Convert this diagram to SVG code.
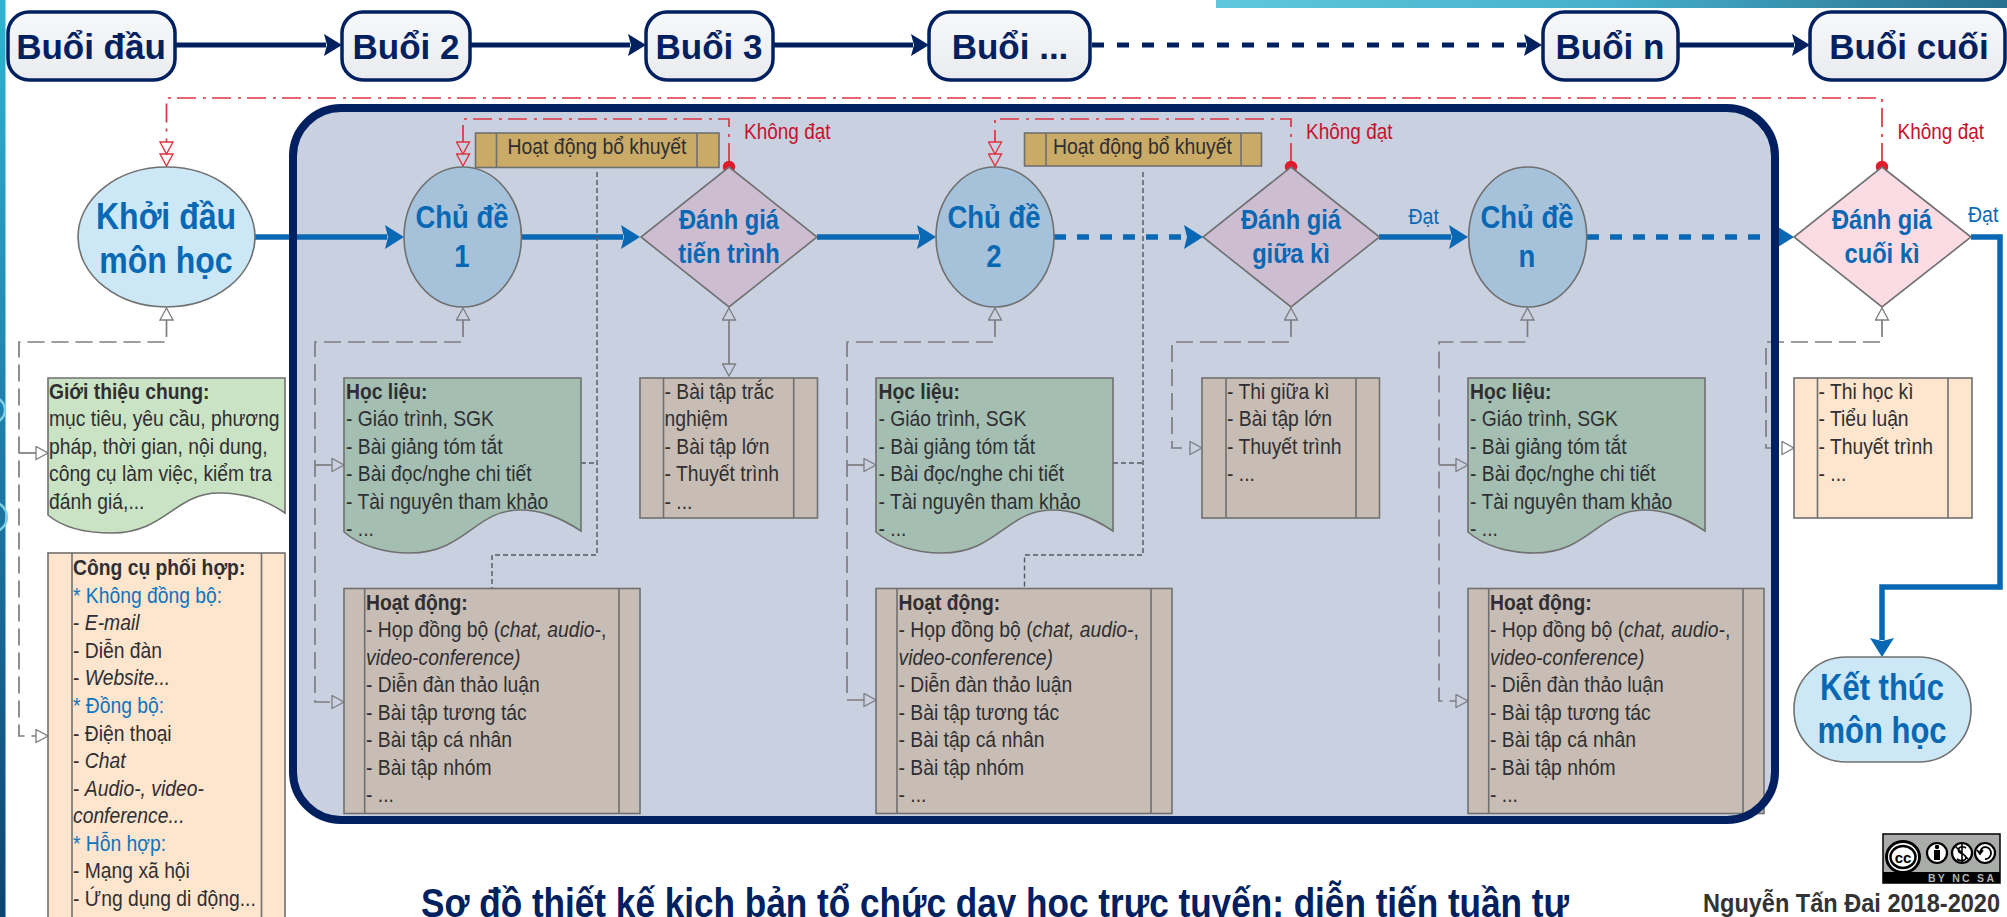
<svg xmlns="http://www.w3.org/2000/svg" width="2007" height="917" viewBox="0 0 2007 917">
<style>
text{font-family:"Liberation Sans",Arial,sans-serif}
.top rect{fill:url(#gTop);stroke:#002060;stroke-width:3.5}
.top text{font-weight:700;font-size:35px;fill:#002060;text-anchor:middle}
.sh{stroke:#707070;stroke-width:1.6}
.big{font-weight:700;fill:#0868b4;text-anchor:middle}
.body{font-size:19.3px;fill:#2f2f33}
.body .b{font-weight:700}
.body .i{font-style:italic}
.body .u{fill:#1074bc}
.kd{font-size:19px;fill:#c8102e}
.dat{font-size:19.5px;fill:#0868b4}
.f-mat{fill:#a4bfb2}
.f-act{fill:#c8bdb4}
.f-pe{fill:#fde5ce}
.f-gold{fill:#c9aa66}
.f-dm{fill:#cdbdd1}
.f-ch{fill:#a5c2da}
.f-st{fill:#cce8f6}
.nav{fill:none;stroke:#002060;stroke-width:5}
.blu{fill:none;stroke:#0868b4;stroke-width:5.5}
.da1{stroke-dasharray:12 13}
.da2{stroke-dasharray:12 11}
.gr{fill:none;stroke:#7d7d80;stroke-width:1.7;stroke-dasharray:17 7}
.dk{fill:none;stroke:#55585f;stroke-width:1.4;stroke-dasharray:5 3}
.rd{fill:none;stroke:#dd3440;stroke-width:1.7;stroke-dasharray:19 6 3 7}
.dot{fill:#e01b2b}
</style>
<defs>
<linearGradient id="gTop" x1="0" y1="0" x2="0" y2="1"><stop offset="0" stop-color="#f7f8fa"/><stop offset="1" stop-color="#e9ebef"/></linearGradient>
<linearGradient id="gL" x1="0" y1="0" x2="0" y2="1"><stop offset="0" stop-color="#2fb4d2"/><stop offset=".5" stop-color="#1d7ba6"/><stop offset="1" stop-color="#0c4474"/></linearGradient>
<linearGradient id="gR" x1="0" y1="0" x2="1" y2="0"><stop offset="0" stop-color="#5fc8de"/><stop offset=".5" stop-color="#46afcb"/><stop offset="1" stop-color="#27708f"/></linearGradient>
<marker id="aN" markerUnits="userSpaceOnUse" markerWidth="18" markerHeight="22" viewBox="0 0 18 22" refX="2" refY="11" orient="auto"><path d="M0,0L18,11L0,22L3,11Z" fill="#002060"/></marker>
<marker id="aB" markerUnits="userSpaceOnUse" markerWidth="19" markerHeight="24" viewBox="0 0 19 24" refX="2" refY="12" orient="auto"><path d="M0,0L19,12L0,24L3,12Z" fill="#0868b4"/></marker>
<marker id="hG" markerUnits="userSpaceOnUse" markerWidth="14" markerHeight="15" viewBox="-1 -1 14 15" refX="0" refY="6.5" orient="auto-start-reverse"><path d="M0,0L12,6.5L0,13Z" fill="none" stroke="#7d7d80" stroke-width="1.3"/></marker>
<marker id="hR" markerUnits="userSpaceOnUse" markerWidth="26" markerHeight="15" viewBox="-1 -1 26 15" refX="0" refY="6.5" orient="auto"><path d="M0,0L12,6.5L0,13ZM12,0L24,6.5L12,13Z" fill="none" stroke="#dd3440" stroke-width="1.4"/></marker>
</defs>

<rect width="2007" height="917" fill="#fff"/>
<g id="deco">
<rect x="0" y="0" width="5.5" height="917" fill="url(#gL)"/>
<rect x="1216" y="0" width="791" height="8" fill="url(#gR)"/>
<circle cx="-8" cy="410" r="13" fill="none" stroke="#7fd0e6" stroke-width="2.5"/>
<circle cx="-8" cy="517" r="15" fill="none" stroke="#7fd0e6" stroke-width="2.5"/>
</g>

<rect id="panel-bg" x="293" y="108" width="1482" height="712" rx="48" ry="48" fill="#c9d1e0"/>

<g id="connectors">
<path class="nav" marker-end="url(#aN)" d="M175,45H326"/>
<path class="nav" marker-end="url(#aN)" d="M470,45H630"/>
<path class="nav" marker-end="url(#aN)" d="M773,45H913"/>
<path class="nav da1" marker-end="url(#aN)" d="M1092,45H1526"/>
<path class="nav" marker-end="url(#aN)" d="M1678,45H1794"/>
<path class="blu" marker-end="url(#aB)" d="M255,237H387"/>
<path class="blu" marker-end="url(#aB)" d="M521,237H623"/>
<path class="blu" marker-end="url(#aB)" d="M817,237H919"/>
<path class="blu da2" marker-end="url(#aB)" d="M1054,237H1186"/>
<path class="blu" marker-end="url(#aB)" d="M1379,237H1451"/>
<path class="blu da2" marker-end="url(#aB)" d="M1587,237H1777"/>
<path class="blu" marker-end="url(#aB)" d="M1971,237H2000V587H1882V640"/>
<path class="rd" marker-end="url(#hR)" d="M1882,162V98H166.500V142"/>
<path class="rd" marker-end="url(#hR)" d="M729,162V119H463V142"/>
<path class="rd" marker-end="url(#hR)" d="M1291,162V119H995V142"/>
<path class="dk" d="M597,172V555H492V588M581,463H597"/>
<path class="dk" d="M1143,172V555H1024.500V588M1113,463H1143"/>
<path class="gr" marker-start="url(#hG)" marker-end="url(#hG)" d="M166.500,320V342H19V736H36"/>
<path class="gr" marker-end="url(#hG)" d="M19,453H36"/>
<path class="gr" marker-start="url(#hG)" marker-end="url(#hG)" d="M463,320V342H315V702H332"/>
<path class="gr" marker-end="url(#hG)" d="M315,465H332"/>
<path class="gr" marker-start="url(#hG)" marker-end="url(#hG)" d="M995,320V342H847V700H864"/>
<path class="gr" marker-end="url(#hG)" d="M847,465H864"/>
<path class="gr" marker-start="url(#hG)" marker-end="url(#hG)" d="M1527.500,320V342H1439V701H1456"/>
<path class="gr" marker-end="url(#hG)" d="M1439,465H1456"/>
<path class="gr" marker-start="url(#hG)" marker-end="url(#hG)" d="M1291,320V342H1172V448H1190"/>
<path class="gr" marker-start="url(#hG)" marker-end="url(#hG)" d="M1882,320V342H1766V448H1782"/>
<path class="gr" style="stroke-dasharray:none" marker-start="url(#hG)" marker-end="url(#hG)" d="M729,320V364"/>
<circle class="dot" cx="729" cy="167" r="6.200"/>
<circle class="dot" cx="1291" cy="167" r="6.200"/>
<circle class="dot" cx="1882" cy="167" r="6.200"/>
</g>

<g id="session-first" class="top"><rect x="8" y="12" width="167" height="68" rx="21"/><text x="91" y="59">Buổi đầu</text></g>
<g id="session-2" class="top"><rect x="342" y="12" width="128" height="68" rx="21"/><text x="406" y="59">Buổi 2</text></g>
<g id="session-3" class="top"><rect x="646" y="12" width="127" height="68" rx="21"/><text x="709" y="59">Buổi 3</text></g>
<g id="session-more" class="top"><rect x="929" y="12" width="161" height="68" rx="21"/><text x="1010" y="59">Buổi ...</text></g>
<g id="session-n" class="top"><rect x="1543" y="12" width="135" height="68" rx="21"/><text x="1610" y="59">Buổi n</text></g>
<g id="session-last" class="top"><rect x="1810" y="12" width="195" height="68" rx="21"/><text x="1909" y="59">Buổi cuối</text></g>

<g id="start"><ellipse class="f-st sh" cx="166.500" cy="237" rx="88.500" ry="70"/><g transform="translate(166,229) scale(1,1.13)"><text class="big" font-size="32">Khởi đầu</text><text class="big" font-size="32" y="39">môn học</text></g></g>

<g id="topic-1"><ellipse class="f-ch sh" cx="462.700" cy="237" rx="58.700" ry="70"/><g transform="translate(462,228) scale(1,1.17)"><text class="big" font-size="27.500">Chủ đề</text><text class="big" font-size="27.500" y="33.500">1</text></g></g>
<g id="topic-2"><ellipse class="f-ch sh" cx="995" cy="237" rx="59" ry="70"/><g transform="translate(994,228) scale(1,1.17)"><text class="big" font-size="27.500">Chủ đề</text><text class="big" font-size="27.500" y="33.500">2</text></g></g>
<g id="topic-n"><ellipse class="f-ch sh" cx="1527.700" cy="237" rx="59" ry="70"/><g transform="translate(1527,228) scale(1,1.17)"><text class="big" font-size="27.500">Chủ đề</text><text class="big" font-size="27.500" y="33.500">n</text></g></g>

<g id="eval-progress"><path class="f-dm sh" d="M729,167L817,237L729,307L641,237Z"/><g transform="translate(729,229) scale(1,1.14)"><text class="big" font-size="23.700">Đánh giá</text><text class="big" font-size="23.700" y="30">tiến trình</text></g></g>
<g id="eval-mid"><path class="f-dm sh" d="M1291,167L1379.500,237L1291,307L1203,237Z"/><g transform="translate(1291,229) scale(1,1.14)"><text class="big" font-size="23.700">Đánh giá</text><text class="big" font-size="23.700" y="30">giữa kì</text></g></g>
<g id="eval-final"><path fill="#fbdbe4" class="sh" d="M1882,167L1971,237L1882,307L1794,237Z"/><g transform="translate(1882,229) scale(1,1.14)"><text class="big" font-size="23.700">Đánh giá</text><text class="big" font-size="23.700" y="30">cuối kì</text></g></g>

<g id="end"><rect class="f-st sh" x="1794" y="657" width="177" height="105" rx="52" ry="52"/><g transform="translate(1882,700) scale(1,1.2)"><text class="big" font-size="31">Kết thúc</text><text class="big" font-size="31" y="36">môn học</text></g></g>

<g id="remedial-1"><rect class="f-gold sh" x="475.500" y="133" width="243.500" height="34.500"/><path class="sh" fill="none" d="M496.500,133V167.500M697,133V167.500"/><text class="body" transform="translate(507.500,154) scale(1,1.12)" textLength="179" lengthAdjust="spacingAndGlyphs">Hoạt động bổ khuyết</text></g>
<g id="remedial-2"><rect class="f-gold sh" x="1024.500" y="133" width="237" height="33"/><path class="sh" fill="none" d="M1046,133V166M1241,133V166"/><text class="body" transform="translate(1053,154) scale(1,1.12)" textLength="179" lengthAdjust="spacingAndGlyphs">Hoạt động bổ khuyết</text></g>

<g id="intro"><path fill="#cae3c4" class="sh" d="M48,378H285V513C262,497 240,493 219,493C175,493 165,533 112,533C85,533 62,527 48,515Z"/>
<text class="body" transform="translate(49,399) scale(1,1.14)"><tspan class="b" x="0">Giới thiệu chung:</tspan><tspan x="0" dy="24.100">mục tiêu, yêu cầu, phương</tspan><tspan x="0" dy="24.100">pháp, thời gian, nội dung,</tspan><tspan x="0" dy="24.100">công cụ làm việc, kiểm tra</tspan><tspan x="0" dy="24.100">đánh giá,...</tspan></text></g>

<g id="tools"><rect class="f-pe sh" x="48" y="553" width="237" height="380"/><path class="sh" fill="none" d="M72,553V917M261.500,553V917"/>
<text class="body" transform="translate(73,575) scale(1,1.14)"><tspan class="b" x="0">Công cụ phối hợp:</tspan><tspan class="u" x="0" dy="24.200">* Không đồng bộ:</tspan><tspan x="0" dy="24.200">- <tspan class="i">E-mail</tspan></tspan><tspan x="0" dy="24.200">- Diễn đàn</tspan><tspan x="0" dy="24.200">- <tspan class="i">Website...</tspan></tspan><tspan class="u" x="0" dy="24.200">* Đồng bộ:</tspan><tspan x="0" dy="24.200">- Điện thoại</tspan><tspan x="0" dy="24.200">- <tspan class="i">Chat</tspan></tspan><tspan x="0" dy="24.200">- <tspan class="i">Audio-, video-</tspan></tspan><tspan class="i" x="0" dy="24.200">conference...</tspan><tspan class="u" x="0" dy="24.200">* Hỗn hợp:</tspan><tspan x="0" dy="24.200">- Mạng xã hội</tspan><tspan x="0" dy="24.200">- Ứng dụng di động...</tspan></text></g>

<g id="materials-1"><path class="f-mat sh" d="M344,378H581V531C558,516 540,510 520,510C475,510 465,553 410,553C385,553 360,546 344,532Z"/>
<text class="body" transform="translate(346,399) scale(1,1.14)"><tspan class="b" x="0">Học liệu:</tspan><tspan x="0" dy="24.100">- Giáo trình, SGK</tspan><tspan x="0" dy="24.100">- Bài giảng tóm tắt</tspan><tspan x="0" dy="24.100">- Bài đọc/nghe chi tiết</tspan><tspan x="0" dy="24.100">- Tài nguyên tham khảo</tspan><tspan x="0" dy="24.100">- ...</tspan></text></g>
<g id="materials-2"><path class="f-mat sh" d="M876,378H1113V531C1090,516 1072,510 1052,510C1007,510 997,553 942,553C917,553 892,546 876,532Z"/>
<text class="body" transform="translate(878.500,399) scale(1,1.14)"><tspan class="b" x="0">Học liệu:</tspan><tspan x="0" dy="24.100">- Giáo trình, SGK</tspan><tspan x="0" dy="24.100">- Bài giảng tóm tắt</tspan><tspan x="0" dy="24.100">- Bài đọc/nghe chi tiết</tspan><tspan x="0" dy="24.100">- Tài nguyên tham khảo</tspan><tspan x="0" dy="24.100">- ...</tspan></text></g>
<g id="materials-n"><path class="f-mat sh" d="M1468,378H1705V531C1682,516 1664,510 1644,510C1599,510 1589,553 1534,553C1509,553 1484,546 1468,532Z"/>
<text class="body" transform="translate(1470,399) scale(1,1.14)"><tspan class="b" x="0">Học liệu:</tspan><tspan x="0" dy="24.100">- Giáo trình, SGK</tspan><tspan x="0" dy="24.100">- Bài giảng tóm tắt</tspan><tspan x="0" dy="24.100">- Bài đọc/nghe chi tiết</tspan><tspan x="0" dy="24.100">- Tài nguyên tham khảo</tspan><tspan x="0" dy="24.100">- ...</tspan></text></g>

<g id="quiz"><rect class="f-act sh" x="640" y="378" width="177.500" height="140"/><path class="sh" fill="none" d="M663.500,378V518M793.700,378V518"/>
<text class="body" transform="translate(664.500,399) scale(1,1.14)"><tspan x="0">- Bài tập trắc</tspan><tspan x="0" dy="24.100">nghiệm</tspan><tspan x="0" dy="24.100">- Bài tập lớn</tspan><tspan x="0" dy="24.100">- Thuyết trình</tspan><tspan x="0" dy="24.100">- ...</tspan></text></g>
<g id="midterm"><rect class="f-act sh" x="1202" y="378" width="177.500" height="140"/><path class="sh" fill="none" d="M1226,378V518M1356,378V518"/>
<text class="body" transform="translate(1227,399) scale(1,1.14)"><tspan x="0">- Thi giữa kì</tspan><tspan x="0" dy="24.100">- Bài tập lớn</tspan><tspan x="0" dy="24.100">- Thuyết trình</tspan><tspan x="0" dy="24.100">- ...</tspan></text></g>
<g id="finalterm"><rect class="f-pe sh" x="1794" y="378" width="178" height="140"/><path class="sh" fill="none" d="M1817.500,378V518M1948,378V518"/>
<text class="body" transform="translate(1818.500,399) scale(1,1.14)"><tspan x="0">- Thi học kì</tspan><tspan x="0" dy="24.100">- Tiểu luận</tspan><tspan x="0" dy="24.100">- Thuyết trình</tspan><tspan x="0" dy="24.100">- ...</tspan></text></g>

<g id="activity-1"><rect class="f-act sh" x="344" y="588.500" width="296" height="225"/><path class="sh" fill="none" d="M364.700,588.500V813.500M619,588.500V813.500"/>
<text class="body" transform="translate(366,610) scale(1,1.14)"><tspan class="b" x="0">Hoạt động:</tspan><tspan x="0" dy="24.100">- Họp đồng bộ (<tspan class="i">chat, audio-</tspan>,</tspan><tspan class="i" x="0" dy="24.100">video-conference)</tspan><tspan x="0" dy="24.100">- Diễn đàn thảo luận</tspan><tspan x="0" dy="24.100">- Bài tập tương tác</tspan><tspan x="0" dy="24.100">- Bài tập cá nhân</tspan><tspan x="0" dy="24.100">- Bài tập nhóm</tspan><tspan x="0" dy="24.100">- ...</tspan></text></g>
<g id="activity-2"><rect class="f-act sh" x="876" y="588.500" width="296" height="225"/><path class="sh" fill="none" d="M897,588.500V813.500M1151,588.500V813.500"/>
<text class="body" transform="translate(898.500,610) scale(1,1.14)"><tspan class="b" x="0">Hoạt động:</tspan><tspan x="0" dy="24.100">- Họp đồng bộ (<tspan class="i">chat, audio-</tspan>,</tspan><tspan class="i" x="0" dy="24.100">video-conference)</tspan><tspan x="0" dy="24.100">- Diễn đàn thảo luận</tspan><tspan x="0" dy="24.100">- Bài tập tương tác</tspan><tspan x="0" dy="24.100">- Bài tập cá nhân</tspan><tspan x="0" dy="24.100">- Bài tập nhóm</tspan><tspan x="0" dy="24.100">- ...</tspan></text></g>
<g id="activity-n"><rect class="f-act sh" x="1468" y="588.500" width="296" height="225"/><path class="sh" fill="none" d="M1488.700,588.500V813.500M1743,588.500V813.500"/>
<text class="body" transform="translate(1490,610) scale(1,1.14)"><tspan class="b" x="0">Hoạt động:</tspan><tspan x="0" dy="24.100">- Họp đồng bộ (<tspan class="i">chat, audio-</tspan>,</tspan><tspan class="i" x="0" dy="24.100">video-conference)</tspan><tspan x="0" dy="24.100">- Diễn đàn thảo luận</tspan><tspan x="0" dy="24.100">- Bài tập tương tác</tspan><tspan x="0" dy="24.100">- Bài tập cá nhân</tspan><tspan x="0" dy="24.100">- Bài tập nhóm</tspan><tspan x="0" dy="24.100">- ...</tspan></text></g>

<rect id="panel-border" x="293" y="108" width="1482" height="712" rx="48" ry="48" fill="none" stroke="#002060" stroke-width="8"/>

<g id="labels">
<text class="kd" transform="translate(744,139) scale(1,1.16)">Không đạt</text>
<text class="kd" transform="translate(1306,139) scale(1,1.16)">Không đạt</text>
<text class="kd" transform="translate(1897.500,139) scale(1,1.16)">Không đạt</text>
<text class="dat" transform="translate(1408.500,224) scale(1,1.12)">Đạt</text>
<text class="dat" transform="translate(1968,222) scale(1,1.12)">Đạt</text>
</g>

<text id="title" transform="translate(421,917) scale(1,1.17)" font-size="34" font-weight="700" fill="#002060" textLength="1148" lengthAdjust="spacingAndGlyphs">Sơ đồ thiết kế kịch bản tổ chức dạy học trực tuyến: diễn tiến tuần tự</text>
<text id="author" x="1703" y="912" font-size="25" font-weight="700" fill="#333" textLength="297" lengthAdjust="spacingAndGlyphs">Nguyễn Tấn Đai 2018-2020</text>

<g id="cc-badge">
<rect x="1883" y="834" width="117" height="49" fill="#a9aca8" stroke="#000" stroke-width="1.5"/>
<rect x="1883" y="872" width="117" height="11" fill="#000"/>
<ellipse cx="1903" cy="857" rx="18" ry="17" fill="#000"/>
<ellipse cx="1903" cy="857" rx="15" ry="14" fill="#fff"/>
<ellipse cx="1903" cy="857" rx="12.500" ry="11" fill="none" stroke="#000" stroke-width="2.500"/>
<text x="1903" y="862.500" font-size="15" font-weight="700" text-anchor="middle" fill="#000">cc</text>
<g fill="#fff" stroke="#000" stroke-width="2.200">
<circle cx="1937" cy="853" r="10"/>
<circle cx="1962" cy="853" r="10"/>
<circle cx="1985" cy="853" r="10"/>
</g>
<circle cx="1937" cy="847" r="2.200" fill="#000"/>
<rect x="1934" y="850" width="6" height="10" fill="#000"/>
<path d="M1966,848C1961,845 1957,848 1959,852C1961,854 1965,854 1966,857C1966,861 1961,862 1957,859M1955,846L1969,860M1962,844V862" fill="none" stroke="#000" stroke-width="1.600"/>
<path d="M1980,853A5.500,6 0 1 1 1985,859M1977,850L1980,854L1983,850" fill="none" stroke="#000" stroke-width="1.800"/>
<text x="1928" y="881.500" font-size="10.500" font-weight="700" fill="#b5b5b5" textLength="66">BY  NC  SA</text>
</g>
</svg>
